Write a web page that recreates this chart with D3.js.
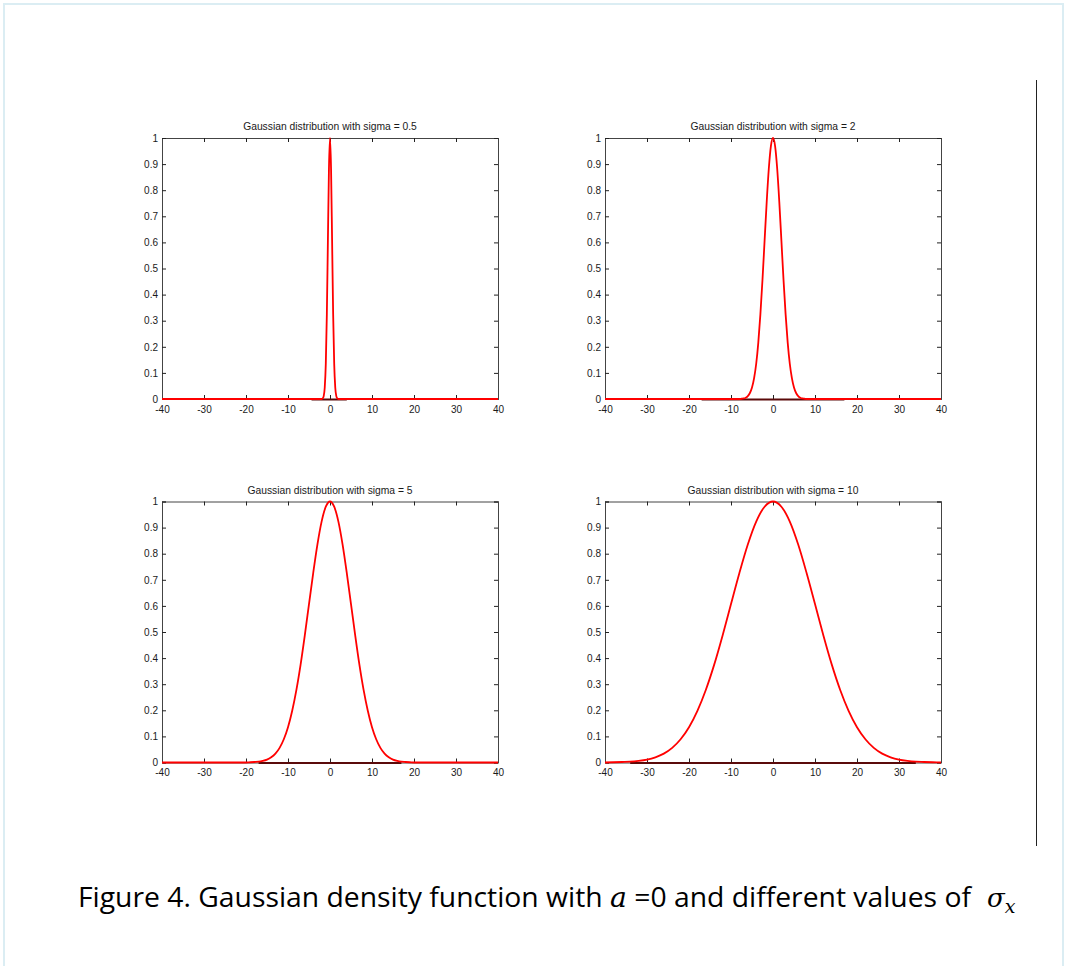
<!DOCTYPE html>
<html>
<head>
<meta charset="utf-8">
<script src="https://cdn.jsdelivr.net/npm/d3@7"></script>
<style>
  html, body { margin: 0; padding: 0; background: #fff; }
  svg { display: block; }
</style>
</head>
<body>
<div id="chart"></div>
<script>
// values (peak normalised to 1)
const sigmas = [0.5, 2, 5, 10];
const titles = [
    "Gaussian distribution with sigma = 0.5",
    "Gaussian distribution with sigma = 2",
    "Gaussian distribution with sigma = 5",
    "Gaussian distribution with sigma = 10"
];
const xTicks = [-40, -30, -20, -10, 0, 10, 20, 30, 40];
const yTicks = [0, 0.1, 0.2, 0.3, 0.4, 0.5, 0.6, 0.7, 0.8, 0.9, 1];

const x05 = [-40, -2, -1.75, -1.5, -1.25, -1, -0.75, -0.5, -0.25, 0, 0.25, 0.5, 0.75, 1, 1.25, 1.5, 1.75, 2, 40];
const y05 = [0, 0, 0.002, 0.011, 0.044, 0.135, 0.325, 0.607, 0.882, 1, 0.882, 0.607, 0.325, 0.135, 0.044, 0.011, 0.002, 0, 0];

const x2 = [-40, -8, -7.5, -7, -6.5, -6, -5.5, -5, -4.5, -4, -3.5, -3, -2.5, -2, -1.5, -1, -0.5, 0,
    0.5, 1, 1.5, 2, 2.5, 3, 3.5, 4, 4.5, 5, 5.5, 6, 6.5, 7, 7.5, 8, 40];
const y2 = [0, 0, 0.001, 0.002, 0.005, 0.011, 0.023, 0.044, 0.080, 0.135, 0.216, 0.325, 0.458, 0.607, 0.755, 0.882, 0.969, 1,
    0.969, 0.882, 0.755, 0.607, 0.458, 0.325, 0.216, 0.135, 0.080, 0.044, 0.023, 0.011, 0.005, 0.002, 0.001, 0, 0];

const x5 = [-40, -20, -19, -18, -17, -16, -15, -14, -13, -12, -11, -10, -9, -8, -7, -6, -5, -4, -3, -2, -1, 0,
    1, 2, 3, 4, 5, 6, 7, 8, 9, 10, 11, 12, 13, 14, 15, 16, 17, 18, 19, 20, 40];
const y5 = [0, 0, 0.001, 0.002, 0.003, 0.006, 0.011, 0.020, 0.034, 0.056, 0.089, 0.135, 0.198, 0.278, 0.375, 0.487, 0.607, 0.726, 0.835, 0.923, 0.980, 1,
    0.980, 0.923, 0.835, 0.726, 0.607, 0.487, 0.375, 0.278, 0.198, 0.135, 0.089, 0.056, 0.034, 0.020, 0.011, 0.006, 0.003, 0.002, 0.001, 0, 0];

const x10 = [-40, -38, -36, -34, -32, -30, -28, -26, -24, -22, -20, -18, -16, -14, -12, -10, -8, -6, -4, -2, 0,
    2, 4, 6, 8, 10, 12, 14, 16, 18, 20, 22, 24, 26, 28, 30, 32, 34, 36, 38, 40];
const y10 = [0, 0.001, 0.002, 0.003, 0.006, 0.011, 0.020, 0.034, 0.056, 0.089, 0.135, 0.198, 0.278, 0.375, 0.487, 0.607, 0.726, 0.835, 0.923, 0.980, 1,
    0.980, 0.923, 0.835, 0.726, 0.607, 0.487, 0.375, 0.278, 0.198, 0.135, 0.089, 0.056, 0.034, 0.020, 0.011, 0.006, 0.003, 0.002, 0.001, 0];

// dark stretch of the baseline visible under the red curve
const baseFrom = [-4.4, -17, -17, -34];
const baseTo = [4, 17, 17, 34];

const seriesX = [x05, x2, x5, x10];
const seriesY = [y05, y2, y5, y10];

const W = 1065, H = 966;
const plotW = 336, plotH = 261;
const lefts = [162, 605, 162, 605];
const tops = [138, 138, 501.5, 501.5];

const svg = d3.select("#chart").append("svg")
    .attr("width", W)
    .attr("height", H);

// page frame
svg.append("rect")
    .attr("x", 4).attr("y", 4)
    .attr("width", 1059).attr("height", 975)
    .attr("fill", "none")
    .attr("stroke", "#dbedf3")
    .attr("stroke-width", 2);

// vertical rule on the right
svg.append("line")
    .attr("x1", 1036.5).attr("x2", 1036.5)
    .attr("y1", 80).attr("y2", 846)
    .attr("stroke", "#222")
    .attr("stroke-width", 1);

const tickFont = "Liberation Sans, Arial, sans-serif";

sigmas.forEach(function (s, i) {
    const g = svg.append("g")
        .attr("transform", `translate(${lefts[i]},${tops[i]})`);

    const x = d3.scaleLinear().domain([-40, 40]).range([0, plotW]);
    const y = d3.scaleLinear().domain([0, 1]).range([plotH, 0]);

    // axes box with inward ticks on every side
    const bottom = d3.axisBottom(x).tickValues(xTicks).tickSize(-4).tickPadding(3).tickFormat(d => String(d));
    const top = d3.axisTop(x).tickValues(xTicks).tickSize(-4).tickFormat("");
    const left = d3.axisLeft(y).tickValues(yTicks).tickSize(-4).tickPadding(4).tickFormat(d => d === 0 || d === 1 ? String(d) : d.toFixed(1));
    const right = d3.axisRight(y).tickValues(yTicks).tickSize(-4).tickFormat("");

    const axes = [
        g.append("g").attr("transform", `translate(0,${plotH})`).call(bottom),
        g.append("g").call(top),
        g.append("g").call(left),
        g.append("g").attr("transform", `translate(${plotW},0)`).call(right)
    ];
    axes.forEach(function (a) {
        a.select(".domain").attr("stroke", "#444").attr("stroke-width", 1);
        a.selectAll(".tick line").attr("stroke", "#222");
        a.selectAll("text")
            .attr("fill", "#1a1a1a")
            .style("font-family", tickFont)
            .style("font-size", "10px");
    });
    axes[0].selectAll("text").attr("dy", "1.05em");

    g.append("text")
        .attr("x", plotW / 2)
        .attr("y", -8)
        .attr("text-anchor", "middle")
        .attr("fill", "#1a1a1a")
        .style("font-family", tickFont)
        .style("font-size", "10.3px")
        .text(titles[i]);

    const pts = seriesX[i].map((v, k) => [v, seriesY[i][k]]);

    g.append("line")
        .attr("x1", x(baseFrom[i])).attr("x2", x(baseTo[i]))
        .attr("y1", y(0) + 0.5).attr("y2", y(0) + 0.5)
        .attr("stroke", "#5a0a0a")
        .attr("stroke-width", 2);

    const line = d3.line()
        .x(d => x(d[0]))
        .y(d => y(d[1]))
        .curve(d3.curveMonotoneX);

    g.append("path")
        .datum(pts)
        .attr("d", line)
        .attr("fill", "none")
        .attr("stroke", "#ff0000")
        .attr("stroke-width", 1.8)
        .attr("stroke-linejoin", "round");
});

// caption
const cap = svg.append("text")
    .attr("x", 78)
    .attr("y", 907)
    .attr("fill", "#000")
    .style("font-family", "Open Sans, Noto Sans, sans-serif")
    .style("font-size", "27px");
cap.append("tspan").text("Figure 4. Gaussian density function with ");
cap.append("tspan").style("font-style", "italic").style("font-family", "DejaVu Serif, serif").text("a");
cap.append("tspan").text(" =0 and different values of ");
cap.attr("textLength", 893).attr("lengthAdjust", "spacingAndGlyphs");

const sig = svg.append("text")
    .attr("x", 987)
    .attr("y", 907)
    .attr("fill", "#000")
    .style("font-family", "DejaVu Serif, serif")
    .style("font-style", "italic")
    .style("font-size", "26px");
sig.append("tspan").text("σ");
sig.append("tspan").attr("dy", 6).style("font-size", "19px").text("x");
</script>
</body>
</html>
